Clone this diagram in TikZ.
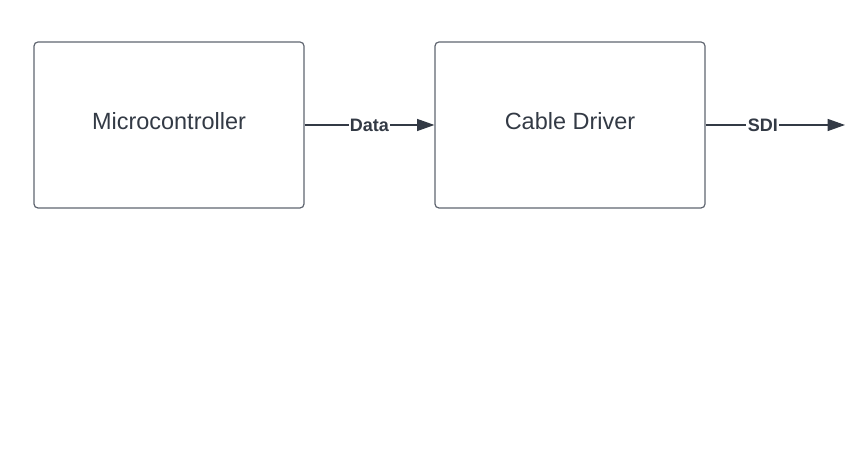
\documentclass[tikz,border=0pt]{standalone}
\usepackage{fontspec}
\setmainfont{Liberation Sans}
\usetikzlibrary{positioning,arrows.meta}
\definecolor{ink}{HTML}{333A45}
\definecolor{edge}{HTML}{5F6570}
\tikzset{
  block/.style={draw=edge,line width=0.9pt,rounded corners=3pt,minimum width=270*0.75pt,
    minimum height=166*0.75pt,inner sep=0pt,text=ink,font=\fontsize{17.6}{20}\selectfont},
  wire/.style={draw=ink,line width=0.9pt,-{Triangle[length=13pt,width=9pt]}},
  tag/.style={fill=white,inner sep=1pt,text=ink,font=\fontsize{13.5}{15}\selectfont\bfseries}
}
\begin{document}
\begin{tikzpicture}[x=0.75pt,y=-0.75pt]
  \useasboundingbox (0,0) rectangle (850,473);

  \node[block] (mcu) at (169,125) {};
  \node[block] (drv) at (570,125) {};
  % box titles sit a little above centre
  \node[text=ink,font=\fontsize{17.6}{20}\selectfont] (mcut) at (169,121) {Microcontroller};
  \node[text=ink,font=\fontsize{17.6}{20}\selectfont] (drvt) at (570,121) {Cable Driver};
  \coordinate (out) at (845,125);

  \draw[wire] (mcu) -- node[tag,pos=0.5] {Data} (drv);
  \draw[wire] (drv) -- node[tag,pos=0.41] {SDI} (out);
\end{tikzpicture}
\end{document}
